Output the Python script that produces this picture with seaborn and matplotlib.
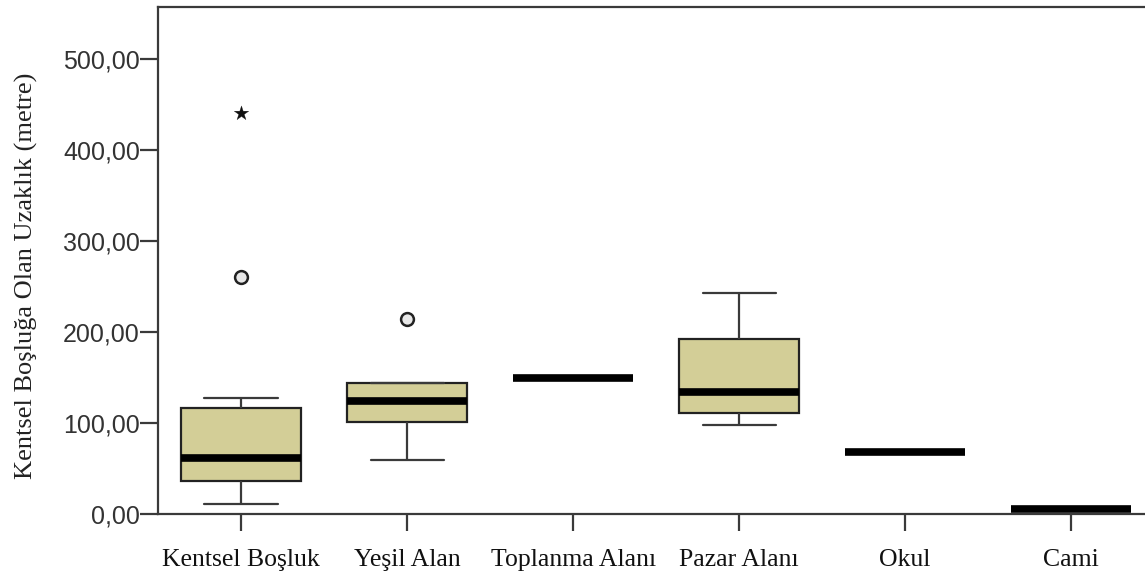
import pandas as pd
import seaborn as sns
import matplotlib.pyplot as plt

categories = ['Kentsel Boşluk', 'Yeşil Alan', 'Toplanma Alanı', 'Pazar Alanı', 'Okul', 'Cami']
kentsel = [11, 20, 28, 36, 45, 55, 62, 85, 105, 116, 127, 260, 440]
yesil = [59, 85, 101, 115, 124, 135, 144, 144, 214]
toplanma = [150, 150]
pazar = [98, 105, 111, 120, 134, 160, 192, 215, 243]
okul = [68]
cami = [6]

# outliers shown by SPSS (circle = mild, star = extreme)
mild_cat = ['Kentsel Boşluk', 'Yeşil Alan']
mild_val = [260, 214]
extreme_cat = ['Kentsel Boşluk']
extreme_val = [440]

yticks = [0, 100, 200, 300, 400, 500]
ytick_labels = ['0,00', '100,00', '200,00', '300,00', '400,00', '500,00']

rows = []
for cat, vals in zip(categories, [kentsel, yesil, toplanma, pazar, okul, cami]):
    rows += [(cat, v) for v in vals]
df = pd.DataFrame(rows, columns=['grup', 'uzaklik'])

sns.set_theme(style="white")
fig = plt.figure(figsize=(11.45, 5.77), dpi=100)
ax = fig.add_axes([0.138, 0.109, 0.870, 0.879])

line_c = '#3a3a3a'
sns.boxplot(
    data=df, x='grup', y='uzaklik', order=categories,
    color='#D3CE97', saturation=1, width=0.72, showfliers=False,
    linewidth=1.6, linecolor=line_c, capwidths=0.44,
    boxprops=dict(edgecolor='#222222'),
    medianprops=dict(color='black', linewidth=5.5, solid_capstyle='butt'),
    ax=ax,
)

sns.scatterplot(x=mild_cat, y=mild_val, marker='o', s=85, color='#e8e8e8',
                edgecolor='#222222', linewidth=1.8, ax=ax, zorder=5)
sns.scatterplot(x=extreme_cat, y=extreme_val, marker='*', s=120, color='#111111',
                edgecolor='#111111', linewidth=0.2, ax=ax, zorder=5)

ax.set_xlim(-0.5, 5.5)
ax.set_ylim(0, 557)
ax.set_yticks(yticks)
ax.set_yticklabels(ytick_labels, fontfamily='Liberation Sans', fontsize=18, color='#333333')
ax.set_xticks(range(len(categories)))
ax.set_xticklabels(categories, fontfamily='Liberation Serif', fontsize=18.5, color='#111111')
ax.tick_params(axis='y', direction='out', length=13, width=1.6, color=line_c, left=True, pad=0)
ax.tick_params(axis='x', direction='out', length=12, width=1.6, color=line_c, bottom=True, pad=13)
ax.set_xlabel('')
ax.set_ylabel('Kentsel Boşluğa Olan Uzaklık (metre)', fontfamily='Liberation Serif',
              fontsize=19, color='#222222', labelpad=17)
ax.yaxis.set_label_coords(-0.12, 0.47)
for side in ['left', 'bottom', 'top', 'right']:
    ax.spines[side].set_color(line_c)
    ax.spines[side].set_linewidth(1.6)

fig.savefig('out.png', dpi=100)
